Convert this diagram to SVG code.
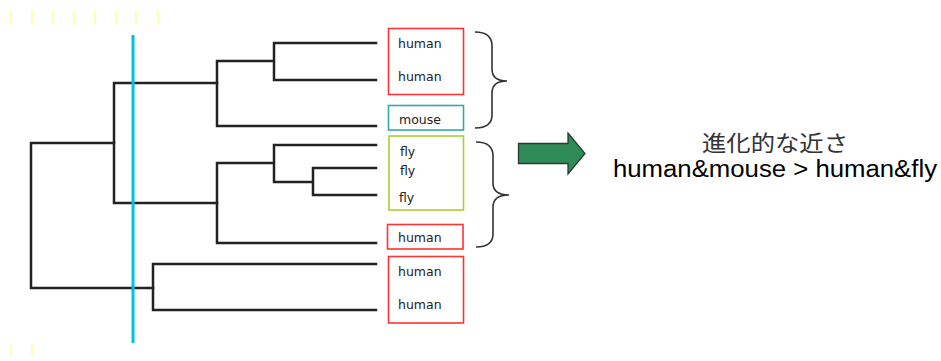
<svg xmlns="http://www.w3.org/2000/svg" width="941" height="361" viewBox="0 0 941 361">
<style>
.tick{stroke:#ffff99;stroke-width:1.5}
.branch{fill:none;stroke:#222;stroke-width:2.5;stroke-linecap:square}
.brace{fill:none;stroke:#333;stroke-width:1.6}
.lbl{font-family:"DejaVu Sans",Verdana,sans-serif;font-size:12.5px;fill:#222}
.box{fill:#fff;stroke-width:1.6}
</style>
<rect width="941" height="361" fill="#fff"/>
<g id="ticks">
<line class="tick" x1="11" y1="10" x2="11" y2="25"/>
<line class="tick" x1="32" y1="10" x2="32" y2="25"/>
<line class="tick" x1="53" y1="10" x2="53" y2="25"/>
<line class="tick" x1="74" y1="10" x2="74" y2="25"/>
<line class="tick" x1="95" y1="10" x2="95" y2="25"/>
<line class="tick" x1="116" y1="10" x2="116" y2="25"/>
<line class="tick" x1="136" y1="10" x2="136" y2="25"/>
<line class="tick" x1="158" y1="10" x2="158" y2="25"/>
<line class="tick" x1="11" y1="343" x2="11" y2="355"/>
<line class="tick" x1="32" y1="343" x2="32" y2="355"/>
</g>
<g id="connectors">
<path class="branch" d="M114,143 H31 V288 H153"/>
<path class="branch" d="M114,83 V203 M114,83 H217 M114,203 H217"/>
<path class="branch" d="M217,61 V126 M217,61 H274 M274,43 V80 M274,43 H376 M274,80 H376 M217,126 H376"/>
<path class="branch" d="M217,163 V243 M217,163 H274 M274,145 V182 M274,145 H376 M274,182 H313 M313,168 V195 M313,168 H376 M313,195 H376 M217,243 H376"/>
<path class="branch" d="M153,264 V310 M153,264 H376 M153,310 H376"/>
</g>
<g id="cut-line"><line x1="133" y1="35" x2="133" y2="343" stroke="#00c0f0" stroke-width="3"/></g>
<g id="group-human-mouse-box1">
<rect class="box" x="388.5" y="28.5" width="75" height="66" stroke="#ff3333"/>
<text class="lbl" x="398" y="48">human</text>
<text class="lbl" x="398" y="81">human</text>
</g>
<g id="mouse-box">
<rect class="box" x="388.5" y="105.5" width="75" height="24.5" stroke="#33aaaa"/>
<text class="lbl" x="399" y="124">mouse</text>
</g>
<g id="fly-box">
<rect class="box" x="389" y="136" width="74.5" height="74" stroke="#a8d030"/>
<text class="lbl" x="400" y="156">fly</text>
<text class="lbl" x="400" y="175">fly</text>
<text class="lbl" x="399" y="202">fly</text>
</g>
<g id="human-box2">
<rect class="box" x="387.5" y="224.5" width="75.5" height="24.5" stroke="#ff3333"/>
<text class="lbl" x="398" y="242">human</text>
</g>
<g id="human-box3">
<rect class="box" x="388.5" y="256.5" width="75" height="66.5" stroke="#ff3333"/>
<text class="lbl" x="398" y="276">human</text>
<text class="lbl" x="398" y="309">human</text>
</g>
<g id="braces">
<path class="brace" d="M475,32 Q492,32 492,46 L492,69 Q492,81 507,81 Q492,81 492,93 L492,115 Q492,128 475,128"/>
<path class="brace" d="M476,142 Q493,142 493,156 L493,183 Q493,195 509,195 Q493,195 493,207 L493,234 Q493,247 476,247"/>
</g>
<g id="arrow">
<path d="M518.5,143.5 H568 V133 L585,153.5 L568,174 V163.5 H518.5 Z" fill="#2e8b57" stroke="#2a3a30" stroke-width="1.3"/>
</g>
<g id="result-text">
<text x="775" y="151" text-anchor="middle" font-family="'Noto Sans CJK JP',sans-serif" font-size="22" fill="#333" textLength="146" lengthAdjust="spacingAndGlyphs">進化的な近さ</text>
<text x="775" y="177" text-anchor="middle" font-family="'Liberation Sans',Arial,sans-serif" font-size="23" fill="#000" textLength="324" lengthAdjust="spacingAndGlyphs">human&amp;mouse &gt; human&amp;fly</text>
</g>
</svg>
